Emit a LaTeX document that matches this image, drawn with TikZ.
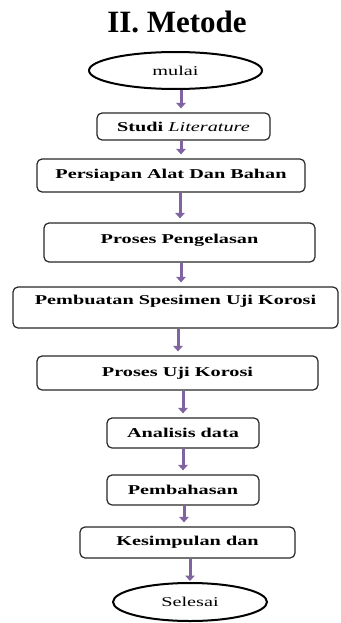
\documentclass[tikz,border=0pt]{standalone}
\usepackage{fontspec}
\setmainfont{Liberation Serif}
\newfontfamily\bx[FakeStretch=1.5]{Liberation Serif}
\usetikzlibrary{shapes.geometric,arrows.meta}
\definecolor{arrowpurple}{RGB}{128,100,162}
\begin{document}
\begin{tikzpicture}[x=1pt,y=-1pt,
  stepbox/.style={draw=black!85,line width=1.2pt,rounded corners=5pt,inner sep=0pt,
    font=\bx\fontsize{13.5}{15}\selectfont\bfseries},
  termnode/.style={draw=black,line width=2pt,ellipse,inner sep=0pt,
    font=\bx\fontsize{13.5}{15}\selectfont},
  flow/.style={draw=arrowpurple,line width=3pt,shorten >=4pt,
    -{Triangle[length=5.5pt,width=9.5pt]}}]
\useasboundingbox (0,0) rectangle (340,623);
\node[font=\fontsize{31}{33}\selectfont\bfseries,anchor=base] (title) at (177,33) {II. Metode};
\node[termnode,minimum width=173pt,minimum height=37pt] (mulai) at (175.5,70.5) {mulai};
\node[stepbox,minimum width=173pt,minimum height=27pt] (studi) at (183.5,126.5) {Studi \textit{\mdseries Literature}};
\node[stepbox,minimum width=268pt,minimum height=33pt] (persiapan) at (171,175.5) {Persiapan Alat Dan Bahan};
\node[stepbox,minimum width=271pt,minimum height=39pt,text depth=8pt] (proses) at (179.5,242.5) {Proses Pengelasan};
\node[stepbox,minimum width=325pt,minimum height=41pt,text depth=16pt] (pembuatan) at (175.5,307.5) {Pembuatan Spesimen Uji Korosi};
\node[stepbox,minimum width=281pt,minimum height=34pt] (uji) at (177.5,373) {Proses Uji Korosi};
\node[stepbox,minimum width=152pt,minimum height=30pt] (analisis) at (183,433) {Analisis data};
\node[stepbox,minimum width=152pt,minimum height=30pt] (pembahasan) at (183,490) {Pembahasan};
\node[stepbox,minimum width=215pt,minimum height=31pt] (kesimpulan) at (187.5,542.5) {Kesimpulan dan};
\node[termnode,minimum width=154pt,minimum height=38pt] (selesai) at (190,602) {Selesai};
\draw[flow] (181,0 |- mulai.south) -- (181,0 |- studi.north);
\draw[flow] (181,0 |- studi.south) -- (181,0 |- persiapan.north);
\draw[flow] (180,0 |- persiapan.south) -- (180,0 |- proses.north);
\draw[flow] (181,0 |- proses.south) -- (181,0 |- pembuatan.north);
\draw[flow] (178,0 |- pembuatan.south) -- (178,0 |- uji.north);
\draw[flow] (183,0 |- uji.south) -- (183,0 |- analisis.north);
\draw[flow] (183,0 |- analisis.south) -- (183,0 |- pembahasan.north);
\draw[flow] (184,0 |- pembahasan.south) -- (184,0 |- kesimpulan.north);
\draw[flow,shorten >=1pt] (190,0 |- kesimpulan.south) -- (190,0 |- selesai.north);
\end{tikzpicture}
\end{document}
